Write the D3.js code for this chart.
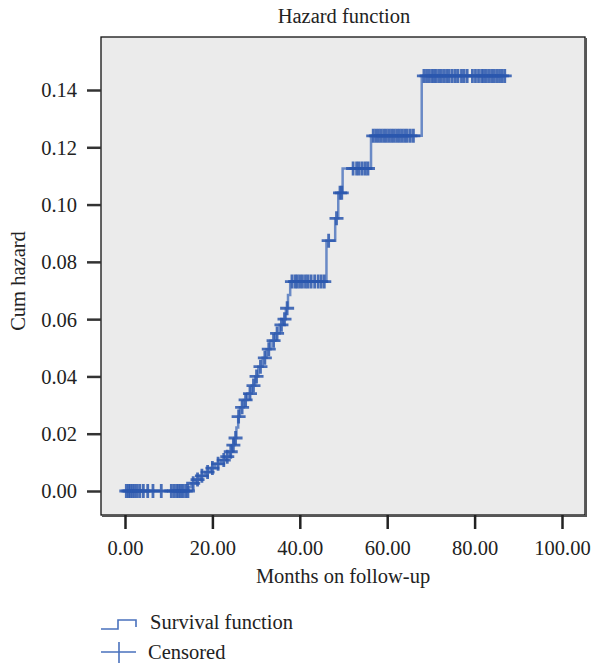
<!DOCTYPE html>
<html>
<head>
<meta charset="utf-8">
<script src="https://cdn.jsdelivr.net/npm/d3@7"></script>
<style>
  body { margin: 0; background: #fff; }
  svg text { font-family: "Liberation Serif", "DejaVu Serif", serif; fill: #222; }
</style>
</head>
<body>
<div id="chart"></div>
<script>
// event times (months) and cumulative hazard after each event
const eventTimes = [0, 14.5, 15.2, 16.2, 17.2, 18.4, 19.6, 20.6, 22.0, 23.0, 24.0, 24.5, 25.0, 25.5, 25.9,
  26.3, 27.2, 28.0, 29.0, 29.8, 30.5, 31.5, 32.4, 33.3, 34.4, 35.4, 36.2, 36.8, 37.3, 37.8,
  46.1, 48.1, 48.8, 49.8, 56.3, 67.9];
const cumHazard = [0, 0.0013, 0.0027, 0.0040, 0.0053, 0.0066, 0.0080, 0.0095, 0.0108, 0.0120, 0.0137, 0.0160,
  0.0185, 0.0222, 0.0260, 0.0292, 0.0318, 0.0340, 0.0368, 0.0400, 0.0434, 0.0465, 0.0495, 0.0525, 0.0550,
  0.0580, 0.0600, 0.0638, 0.0684, 0.0731, 0.0874, 0.0952, 0.1041, 0.1126, 0.1240, 0.1449];
const lastFollowUp = 87;

// censored follow-up times
const censoredTimes = [0.3, 0.8, 1.2, 1.7, 2.2, 2.8, 3.4, 4.2, 5.2, 6.4, 8.3, 10.6, 11.2, 11.8, 12.3, 12.8,
  13.3, 13.9, 14.4, 15.6, 16.6, 17.6, 18.9, 20.0, 21.3, 22.6, 23.4, 24.2, 24.8, 25.3, 26.0, 26.8, 27.6,
  28.6, 29.4, 30.1, 31.0, 32.0, 32.9, 34.0, 34.8, 35.8, 36.5, 37.1, 38.2, 38.9, 39.4, 40.0, 40.6, 41.3,
  41.9, 42.6, 43.4, 44.2, 44.9, 45.6, 46.6, 48.4, 49.2, 49.6, 52.2, 53.0, 53.6, 54.3, 55.0, 55.6, 56.8,
  57.4, 58.0, 58.6, 59.2, 59.8, 60.4, 61.0, 61.6, 62.2, 62.8, 63.4, 64.0, 64.6, 65.3, 66.0, 68.4, 69.0,
  69.6, 70.2, 70.7, 71.2, 71.8, 72.4, 73.0, 73.6, 74.2, 74.9, 75.6, 76.2, 77.0, 77.6, 78.3, 79.5, 80.2,
  80.9, 81.6, 82.1, 82.7, 83.3, 83.9, 84.5, 85.1, 85.7, 86.3, 86.9];

const xTicks = [0, 20, 40, 60, 80, 100];
const yTicks = [0, 0.02, 0.04, 0.06, 0.08, 0.10, 0.12, 0.14];

const width = 591, height = 665;
const frame = { left: 101, top: 37, right: 585, bottom: 515 };
const fontSize = 20.5;

const svg = d3.select('#chart').append('svg')
  .attr('width', width)
  .attr('height', height);

const x = d3.scaleLinear().domain([0, 100]).range([125, 562]);
const y = d3.scaleLinear().domain([0, 0.14]).range([491, 90]);

// plot background + frame
svg.append('rect')
  .attr('x', frame.left).attr('y', frame.top)
  .attr('width', frame.right - frame.left).attr('height', frame.bottom - frame.top)
  .attr('fill', '#ebebeb')
  .attr('stroke', '#111').attr('stroke-width', 1.3);
svg.append('path')
  .attr('d', `M${frame.right + 1},${frame.top + 1}V${frame.bottom + 1}H${frame.left + 1}`)
  .attr('fill', 'none').attr('stroke', '#555').attr('stroke-width', 2);

// axes
const xAxis = d3.axisBottom(x).tickValues(xTicks).tickFormat(d3.format('.2f'))
  .tickSize(14).tickSizeOuter(0);
const gx = svg.append('g').attr('transform', `translate(0,${frame.bottom})`).call(xAxis);
gx.select('.domain').remove();
gx.selectAll('line').attr('stroke', '#222').attr('stroke-width', 2.5);
gx.selectAll('text').attr('font-size', fontSize).attr('y', 40).attr('dy', 0)
  .attr('font-family', '"Liberation Serif", serif').attr('fill', '#222');

const yAxis = d3.axisLeft(y).tickValues(yTicks).tickFormat(d3.format('.2f'))
  .tickSize(14).tickSizeOuter(0);
const gy = svg.append('g').attr('transform', `translate(${frame.left},0)`).call(yAxis);
gy.select('.domain').remove();
gy.selectAll('line').attr('stroke', '#333').attr('stroke-width', 2.5);
gy.selectAll('text').attr('font-size', fontSize).attr('x', -24).attr('dy', '0.34em')
  .attr('font-family', '"Liberation Serif", serif').attr('fill', '#222');

// step function
const stepData = eventTimes.map((t, i) => [t, cumHazard[i]]);
stepData.push([lastFollowUp, cumHazard[cumHazard.length - 1]]);

const line = d3.line()
  .x(d => x(d[0]))
  .y(d => y(d[1]))
  .curve(d3.curveStepAfter);

svg.append('path')
  .datum(stepData)
  .attr('d', line)
  .attr('fill', 'none')
  .attr('stroke', '#4a72bd')
  .attr('stroke-opacity', 0.8)
  .attr('stroke-width', 2.5);

// censored marks
const hazardAt = t => cumHazard[Math.max(0, d3.bisectRight(eventTimes, t) - 1)];
const cw = 7, ch = 7;
svg.append('g')
  .selectAll('path')
  .data(censoredTimes)
  .enter()
  .append('path')
  .attr('d', t => {
    const cx = x(t), cy = y(hazardAt(t));
    return `M${cx - cw},${cy}H${cx + cw}M${cx},${cy - ch}V${cy + ch}`;
  })
  .attr('fill', 'none')
  .attr('stroke', '#2a57ae')
  .attr('stroke-opacity', 0.85)
  .attr('stroke-width', 2.8);

// titles
svg.append('text')
  .attr('x', 344).attr('y', 23)
  .attr('text-anchor', 'middle')
  .attr('font-size', fontSize)
  .text('Hazard function');

svg.append('text')
  .attr('x', 343).attr('y', 583)
  .attr('text-anchor', 'middle')
  .attr('font-size', fontSize)
  .text('Months on follow-up');

svg.append('text')
  .attr('transform', 'translate(25,281) rotate(-90)')
  .attr('text-anchor', 'middle')
  .attr('font-size', fontSize)
  .text('Cum hazard');

// legend
const legend = svg.append('g');
legend.append('path')
  .attr('d', 'M101,629H118V620H136V627')
  .attr('fill', 'none').attr('stroke', '#4a72bd').attr('stroke-width', 1.6);
legend.append('text')
  .attr('x', 150).attr('y', 629)
  .attr('font-size', fontSize)
  .text('Survival function');
legend.append('path')
  .attr('d', 'M101,652H136M119,642V663')
  .attr('fill', 'none').attr('stroke', '#4a72bd').attr('stroke-width', 1.6);
legend.append('text')
  .attr('x', 148).attr('y', 659)
  .attr('font-size', fontSize)
  .text('Censored');
</script>
</body>
</html>
